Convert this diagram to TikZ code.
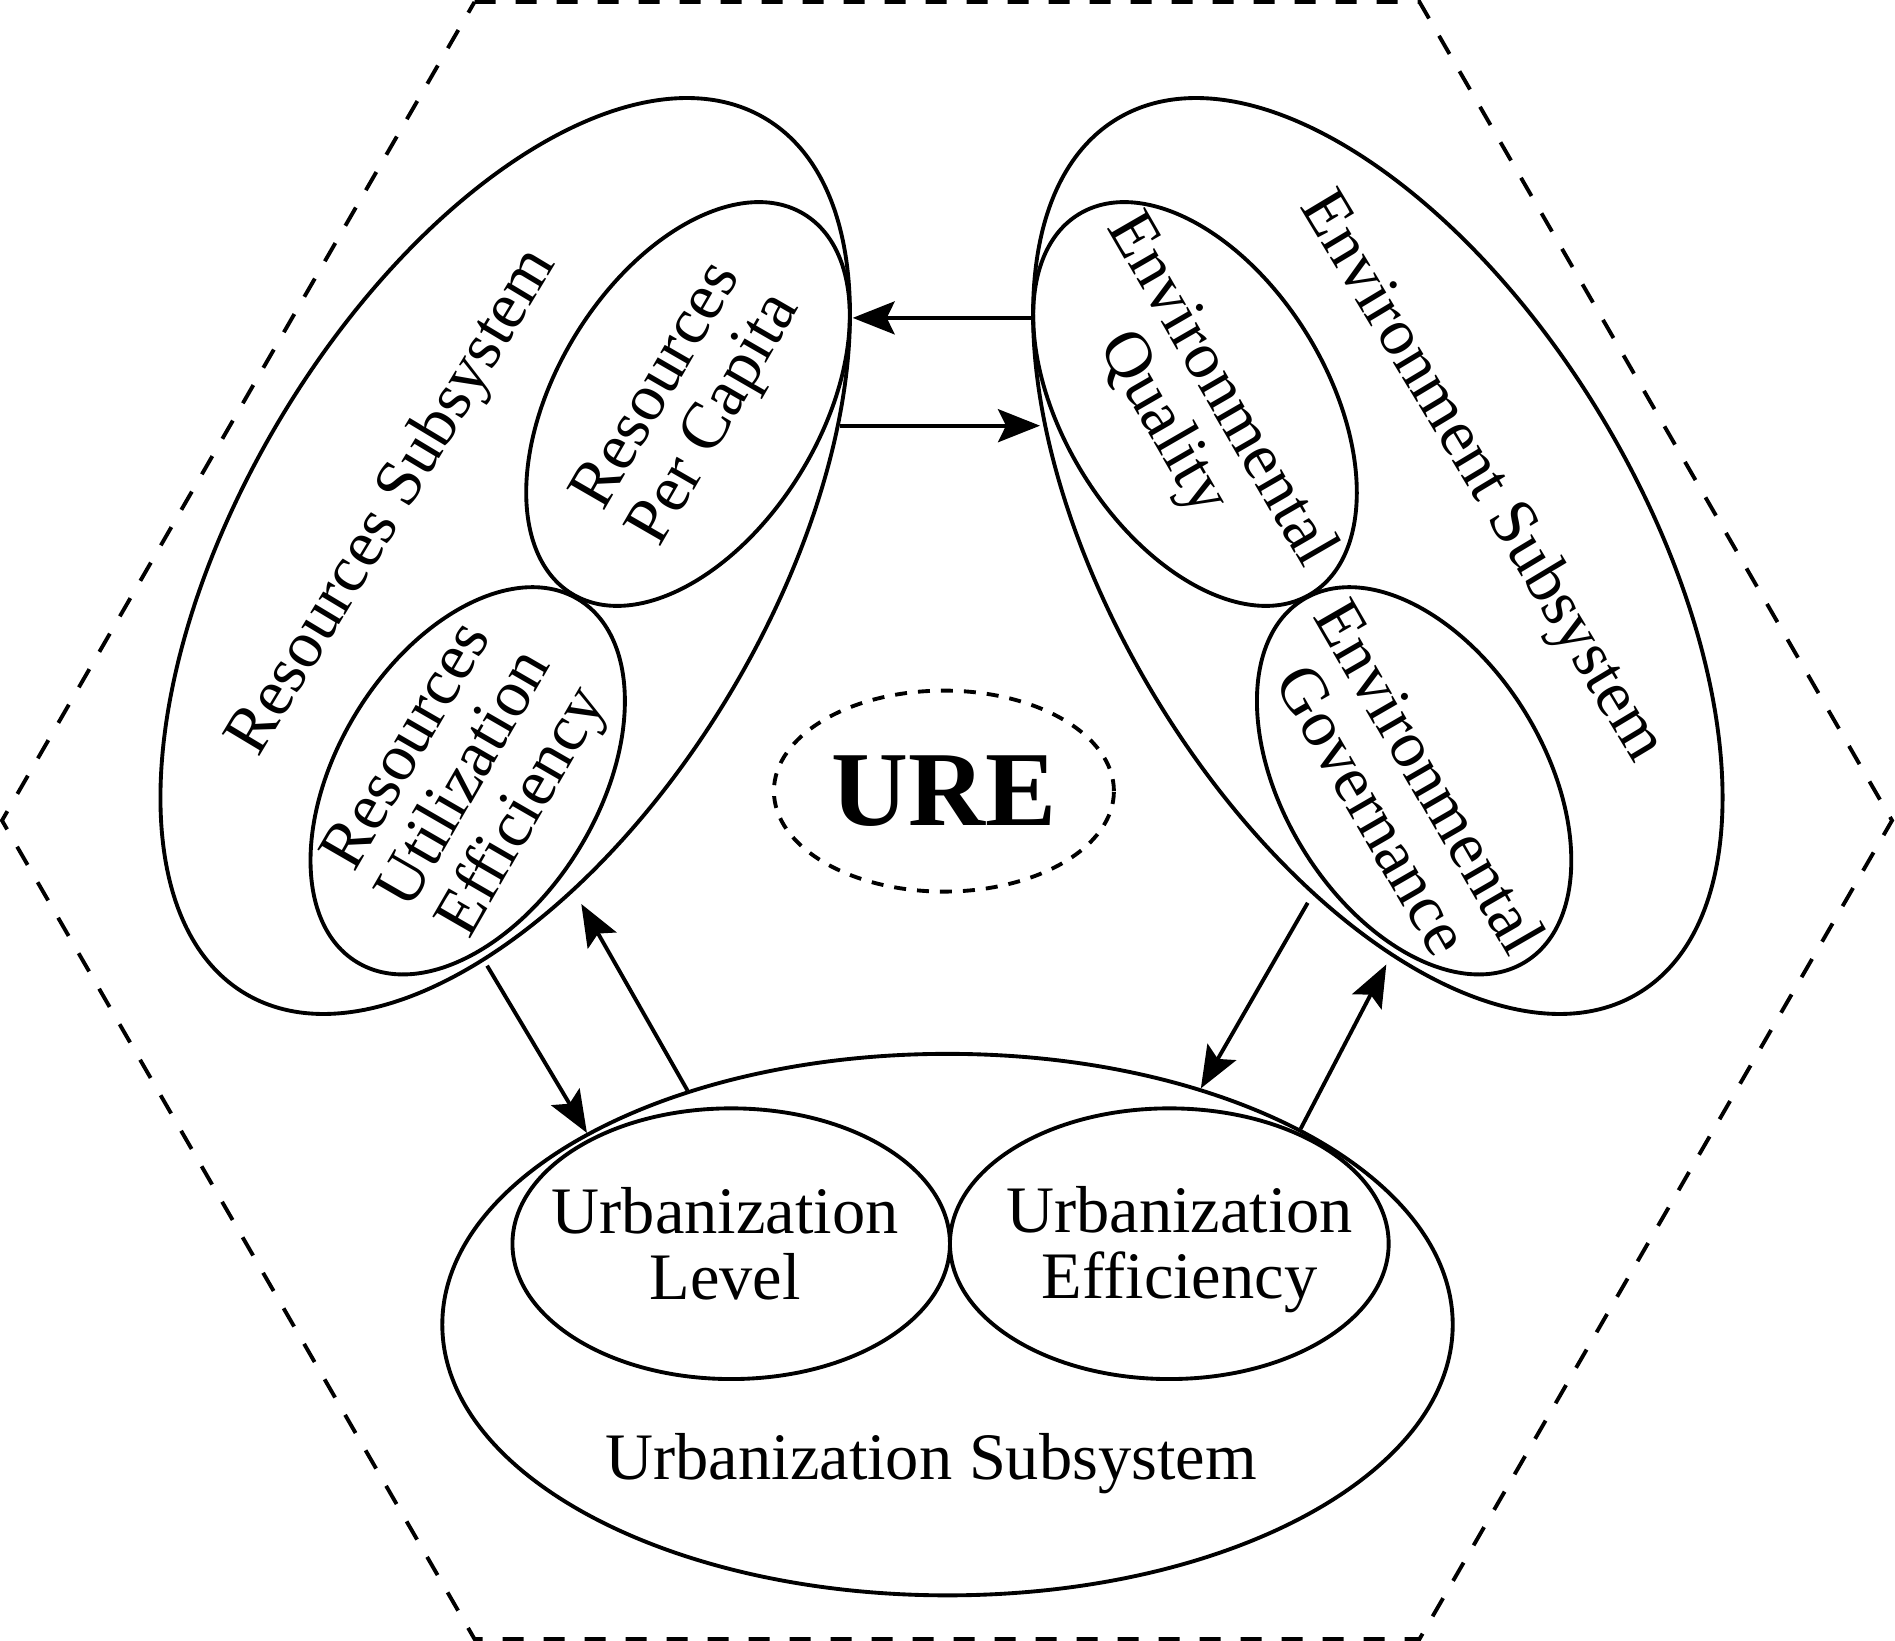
\documentclass[tikz,border=0pt]{standalone}
\usepackage{fontspec}
\setmainfont{Liberation Serif}
\usetikzlibrary{arrows.meta,shapes.geometric}
\begin{document}
\begin{tikzpicture}[>={Stealth[length=4.2mm,width=3.3mm,inset=0.8mm]},x=1mm,y=-1mm,line width=1.1pt,
	oval/.style={draw,ellipse,inner sep=0pt},
	lab/.style={inner sep=0pt,align=center,font=\fontsize{18.9}{18.9}\selectfont}]
	\useasboundingbox (0,0) rectangle (189.5,164.1);
	\draw[dash pattern=on 2.1mm off 2mm] (47.45,0.2) -- (141.95,0.2) -- (189.2,82.05) -- (141.95,163.9) -- (47.45,163.9) -- (0.2,82.05) -- cycle; % khung luc giac
	% Resources
	\node[oval,minimum width=101.8mm,minimum height=52.7mm,rotate=59.3] (res) at (50.52,55.60) {};
	\node[lab,rotate=59] (reslab) at (39.40,50.28) {Resources Subsystem};
	\node[oval,minimum width=44.5mm,minimum height=26.4mm,rotate=58.5] (rpc) at (68.8,40.4) {};
	\node[lab,rotate=60] (rpctxt) at (rpc) {Resources\\Per Capita};
	\node[oval,minimum width=42.5mm,minimum height=26.1mm,rotate=58.5] (rue) at (46.77,78.08) {};
	\node[lab,rotate=60] (ruetxt) at (rue) {Resources\\Utilization\\Efficiency};
	% Environment
	\node[oval,minimum width=101.8mm,minimum height=52.7mm,rotate=-59.3] (env) at (137.78,55.60) {};
	\node[lab,rotate=-59] (envlab) at (148.05,47.74) {Environment Subsystem};
	\node[oval,minimum width=44.5mm,minimum height=26.4mm,rotate=-58.5] (eq) at (119.5,40.4) {};
	\node[lab,rotate=-60] (eqtxt) at (119.05,40.73) {Environmental\\Quality};
	\node[oval,minimum width=42.5mm,minimum height=26.1mm,rotate=-58.5] (eg) at (141.41,78.08) {};
	\node[lab,rotate=-60] (egtxt) at (140.2,79.28) {Environmental\\Governance};
	% Urbanization
	\node[oval,minimum width=101.04mm,minimum height=54.15mm] (urb) at (94.75,132.46) {};
	\node[lab,anchor=base] (urblab) at (93.12,147.93) {Urbanization Subsystem};
	\node[oval,minimum width=43.75mm,minimum height=27.07mm] (ul) at (73.12,124.37) {};
	\node[lab] (ultxt) at (72.52,124.37) {Urbanization\\Level};
	\node[oval,minimum width=43.87mm,minimum height=27.07mm] (ue) at (116.93,124.37) {};
	\node[lab] (uetxt) at (117.96,124.97) {Urbanization\\Efficiency};
	% URE
	\node[draw,ellipse,dash pattern=on 1.2mm off 1.1mm,minimum width=34mm,minimum height=20.1mm,inner sep=0pt,font=\fontsize{30.3}{30.3}\selectfont\bfseries] (ure) at (94.39,79.11) {URE};
	% arrows
	\coordinate (a1) at (103.34,31.79);
	\coordinate (b1) at (85.27,31.79);
	\coordinate (a2) at (84.0,42.57);
	\coordinate (b2) at (104.0,42.57);
	\coordinate (a3) at (48.71,96.57);
	\coordinate (b4) at (58.13,90.40);
	\coordinate (a5) at (130.77,90.28);
	\coordinate (b6) at (138.63,96.45);
	\draw[->] (a1) -- (b1);
	\draw[->] (a2) -- (b2);
	\draw[->] (a3) -- (urb.152.6);
	\draw[->] (urb.138.1) -- (b4);
	\draw[->] (a5) -- (urb.43);
	\draw[->] (urb.29.7) -- (b6);
\end{tikzpicture}
\end{document}
